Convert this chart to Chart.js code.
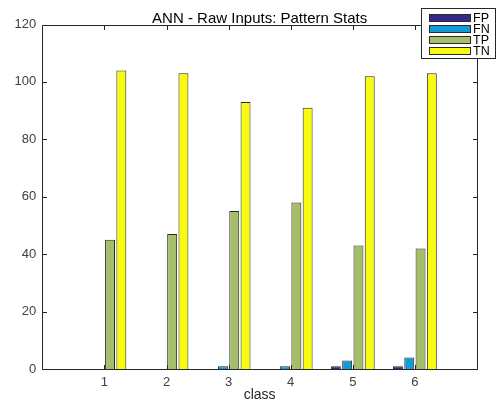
<!DOCTYPE html>
<html>
<head>
<meta charset="utf-8">
<script src="https://cdn.jsdelivr.net/npm/chart.js@4"></script>
<style>
  html, body { margin: 0; padding: 0; background: #fff; }
  canvas { display: block; }
</style>
</head>
<body>
<canvas id="c" width="499" height="401"></canvas>
<script>
const chartTitle = 'ANN - Raw Inputs: Pattern Stats';
const xAxisLabel = 'class';
const categories = ['1', '2', '3', '4', '5', '6'];
const seriesNames = ['FP', 'FN', 'TP', 'TN'];
const fpValues = [0, 0, 0, 0, 1, 1];
const fnValues = [0, 0, 1, 1, 3, 4];
const tpValues = [45, 47, 55, 58, 43, 42];
const tnValues = [104, 103, 93, 91, 102, 103];
const yTicks = [0, 20, 40, 60, 80, 100, 120];
const seriesColors = ['#352A87', '#129BD4', '#A5BE6A', '#F9FB0E'];

const allValues = [fpValues, fnValues, tpValues, tnValues];
const FONT = '"Liberation Sans", Arial, Helvetica, sans-serif';
const AX = '#262626';
const LBL = '#404040';
const EDGE = '#2a2a2a';

const datasets = seriesNames.map((name, s) => ({
  label: name,
  data: allValues[s].map((v, i) => ({ x: Number(categories[i]), y: v })),
  backgroundColor: seriesColors[s],
  borderColor: EDGE,
  borderWidth: 1,
  borderSkipped: 'start',
  categoryPercentage: 4 / 5.5,
  barPercentage: 0.88
}));

const decor = {
  id: 'decor',
  beforeDatasetsDraw(chart) {
    const { ctx, chartArea: a, scales } = chart;
    ctx.save();
    ctx.strokeStyle = AX;
    ctx.lineWidth = 1;
    const L = Math.round(a.left) + 0.5, R = Math.round(a.right) + 0.5;
    const T = Math.round(a.top) + 0.5, B = Math.round(a.bottom) + 0.5;
    ctx.beginPath();
    ctx.rect(L, T, R - L, B - T);
    const tl = 4.5;
    categories.forEach(c => {
      const px = Math.round(scales.x.getPixelForValue(Number(c))) + 0.5;
      ctx.moveTo(px, B); ctx.lineTo(px, B - tl);
      ctx.moveTo(px, T); ctx.lineTo(px, T + tl);
    });
    yTicks.forEach(v => {
      const py = Math.round(scales.y.getPixelForValue(v)) + 0.5;
      ctx.moveTo(L, py); ctx.lineTo(L + tl, py);
      ctx.moveTo(R, py); ctx.lineTo(R - tl, py);
    });
    ctx.stroke();
    ctx.restore();
  },
  afterDraw(chart) {
    const { ctx, chartArea: a } = chart;
    ctx.save();
    const cx = (a.left + a.right) / 2;
    // title
    ctx.fillStyle = '#000';
    ctx.font = '15px ' + FONT;
    ctx.textAlign = 'center';
    ctx.textBaseline = 'alphabetic';
    ctx.fillText(chartTitle, cx, 23);
    // x label
    ctx.fillStyle = AX;
    ctx.font = '14px ' + FONT;
    ctx.textBaseline = 'middle';
    ctx.fillText(xAxisLabel, cx, 395);
    // legend
    const bx = 421.5, by = 8.5, bw = 74, bh = 50;
    ctx.fillStyle = '#fff';
    ctx.fillRect(bx, by, bw, bh);
    ctx.strokeStyle = AX;
    ctx.lineWidth = 1;
    ctx.strokeRect(bx, by, bw, bh);
    ctx.font = '12.5px ' + FONT;
    ctx.textAlign = 'left';
    chart.data.datasets.forEach((ds, i) => {
      const y = 14 + i * 11;
      ctx.fillStyle = ds.backgroundColor;
      ctx.fillRect(429.5, y + 0.5, 41, 7);
      ctx.strokeStyle = EDGE;
      ctx.strokeRect(429.5, y + 0.5, 41, 7);
      ctx.fillStyle = '#000';
      ctx.fillText(ds.label, 473, y + 4.5);
    });
    ctx.restore();
  }
};

new Chart(document.getElementById('c'), {
  type: 'bar',
  data: { datasets },
  options: {
    responsive: false,
    devicePixelRatio: 1,
    animation: false,
    layout: { padding: { top: 24.5, right: 22, left: 0, bottom: 0 } },
    plugins: { legend: { display: false }, title: { display: false }, tooltip: { enabled: false } },
    scales: {
      x: {
        type: 'linear',
        min: 0, max: 7,
        offset: false,
        grid: { display: false, drawTicks: false },
        border: { display: false },
        afterFit(scale) { scale.height = 32; },
        afterBuildTicks(scale) { scale.ticks = categories.map(c => ({ value: Number(c) })); },
        ticks: {
          padding: 6,
          color: LBL,
          font: { family: FONT, size: 13 },
          callback: (v) => categories.find(c => Number(c) === v) || ''
        }
      },
      y: {
        min: 0, max: 120,
        grid: { display: false, drawTicks: false },
        border: { display: false },
        afterFit(scale) { scale.width = 42.3; },
        afterBuildTicks(scale) { scale.ticks = yTicks.map(v => ({ value: v })); },
        ticks: {
          padding: 6,
          color: LBL,
          font: { family: FONT, size: 13 },
          callback: (v) => String(v)
        }
      }
    }
  },
  plugins: [decor]
});
</script>
</body>
</html>
